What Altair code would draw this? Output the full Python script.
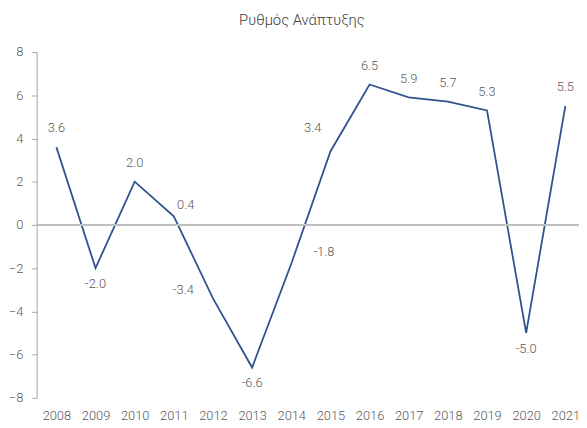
import altair as alt
import pandas as pd

YEARS = [2008, 2009, 2010, 2011, 2012, 2013, 2014, 2015, 2016, 2017, 2018, 2019, 2020, 2021]
GROWTH = [3.6, -2.0, 2.0, 0.4, -3.4, -6.6, -1.8, 3.4, 6.5, 5.9, 5.7, 5.3, -5.0, 5.5]
LABEL_POS = ["above", "below", "above", "upright", "left", "below", "right",
             "upleft", "above", "above", "above", "above", "below", "above"]
Y_TICKS = [-8, -6, -4, -2, 0, 2, 4, 6, 8]
TITLE = "Ρυθμός Ανάπτυξης"

df = pd.DataFrame({"year": YEARS, "value": GROWTH, "pos": LABEL_POS})
df["label"] = df["value"].map(lambda v: f"{v:.1f}")

FONT = "Roboto"
TEXT_COLOR = "#595959"
LINE_COLOR = "#30528F"

x = alt.X("year:Q", scale=alt.Scale(domain=[2007.496, 2021.35], nice=False, zero=False),
          axis=alt.Axis(values=YEARS, format="d", title=None, grid=False, domain=False,
                        ticks=False, labelPadding=12, labelFontSize=13, labelFont=FONT,
                        labelFontWeight=300, labelColor=TEXT_COLOR, labelFlush=False))
y = alt.Y("value:Q", scale=alt.Scale(domain=[-8, 8], nice=False),
          axis=alt.Axis(values=Y_TICKS, title=None, grid=False, domainColor="#A6A6A6",
                        tickColor="#A6A6A6", tickSize=5, labelPadding=9, labelFontSize=13,
                        labelFont=FONT, labelFontWeight=300, labelColor=TEXT_COLOR))

base = alt.Chart(df)

line = base.mark_line(color=LINE_COLOR, strokeWidth=1.8).encode(x=x, y=y)

zero = base.mark_rule(color="#BFBFBF", strokeWidth=2).encode(y=alt.datum(0))

offsets = {
    "above": (0, -19),
    "below": (0, 16),
    "upright": (12, -11),
    "left": (-30, -8),
    "right": (33, -12),
    "upleft": (-18, -24),
}

label_layers = []
for pos, (dx, dy) in offsets.items():
    label_layers.append(
        base.transform_filter(alt.datum.pos == pos).mark_text(
            dx=dx, dy=dy, font=FONT, fontSize=13, fontWeight=300, color=TEXT_COLOR,
            baseline="middle", align="center"
        ).encode(x=alt.X("year:Q"), y=alt.Y("value:Q"), text="label:N")
    )

chart = alt.layer(line, zero, *label_layers).properties(
    width=549, height=350,
    title=alt.TitleParams(TITLE, font=FONT, fontSize=15, fontWeight=300, color="#404040",
                          anchor="middle", dx=-6, offset=18),
    autosize=alt.AutoSizeParams(type="none"),
    padding={"left": 29, "top": 42, "right": 0, "bottom": 28},
).configure_view(stroke=None)

chart.save("out.html", embed_options={"renderer": "svg", "actions": False})
